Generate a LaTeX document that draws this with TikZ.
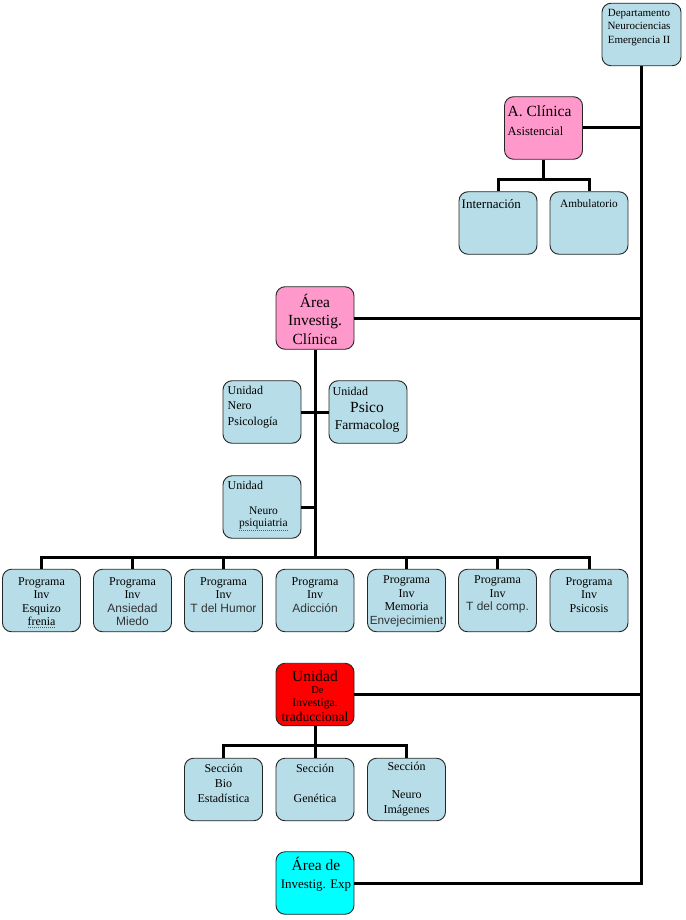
\documentclass[tikz,border=0pt]{standalone}
\usepackage{fontspec}
\setmainfont{Liberation Serif}
\newfontfamily\arialf{Liberation Sans}
\definecolor{pinkb}{HTML}{FF99CC}
\definecolor{blueb}{HTML}{B7DEE8}
\definecolor{redb}{HTML}{FF0000}
\definecolor{cyanb}{HTML}{00FFFF}
\definecolor{edgec}{HTML}{262626}
\definecolor{sanstext}{HTML}{333333}
\newcommand{\sanst}[1]{{\arialf\color{sanstext}#1}}
\begin{document}
\begin{tikzpicture}[x=1pt,y=-1pt,
  box/.style={draw=edgec, line width=0.9pt, rounded corners=9pt, minimum width=78pt, minimum height=62.5pt, inner sep=0pt, fill=blueb},
  conn/.style={line width=3pt, black},
  txt/.style={inner sep=0pt, align=center, font=\fontsize{12}{13.5}\selectfont},
  spell/.style={green!60!black, line width=0.6pt, dash pattern=on 1pt off 1pt}
]
\useasboundingbox (0,0) rectangle (685,920);
\fill[white] (0,0) rectangle (685,920);

% boxes
\node[box, minimum width=79pt] (dept) at (641.5,34.5) {};
\node[box, fill=pinkb] (aclin) at (543.5,128) {};
\node[box] (intern) at (498,223) {};
\node[box] (ambul) at (589,223) {};
\node[box, fill=pinkb] (aic) at (315,318) {};
\node[box] (unp) at (262,412) {};
\node[box] (upf) at (368,412) {};
\node[box] (unpq) at (262,507) {};
\node[box] (p1) at (41.5,600.5) {};
\node[box] (p2) at (132.5,600.5) {};
\node[box] (p3) at (223.5,600.5) {};
\node[box] (p4) at (315,600.5) {};
\node[box] (p5) at (406.5,600.5) {};
\node[box] (p6) at (497.5,600.5) {};
\node[box] (p7) at (589,600.5) {};
\node[box, fill=redb] (ut) at (315,694.5) {};
\node[box] (s1) at (223.5,789.5) {};
\node[box] (s2) at (315,789.5) {};
\node[box] (s3) at (406.5,789.5) {};
\node[box, fill=cyanb] (exp) at (315,883) {};

% connectors
\draw[conn] (dept.south) |- (exp.east);
\draw[conn] (aclin.east) -- (aclin.east -| dept.south);
\draw[conn] (aic.east) -- (aic.east -| dept.south);
\draw[conn] (ut.east) -- (ut.east -| dept.south);
\coordinate (j1) at (543.5,180);
\draw[conn] (aclin.south) -- (j1);
\draw[conn] (intern.north) |- (j1) -| (ambul.north);
\coordinate (j2) at (315,557);
\draw[conn] (aic.south) -- (j2);
\draw[conn] (p1.north) |- (j2) -| (p7.north);
\foreach \p in {p2,p3,p5,p6} {\draw[conn] (\p.north) -- (\p.north |- j2);}
\draw[conn] (unp.east) -- (upf.west);
\draw[conn] (unpq.east) -- (unpq.east -| aic.south);
\coordinate (j3) at (315,745);
\draw[conn] (ut.south) -- (j3);
\draw[conn] (s1.north) |- (j3) -| (s3.north);
\draw[conn] (s2.north) -- (s2.north |- j3);

% texts
\node[txt, font=\fontsize{11}{13.3}\selectfont] (tdept) at (639,27.5) {Departamento\\Neurociencias\\Emergencia II};
\node[txt, align=left, anchor=west, font=\fontsize{12.5}{19}\selectfont] (taclin) at (507.5,120.5) {{\fontsize{15.5}{19}\selectfont A. Clínica}\\Asistencial};
\node[txt, anchor=west, font=\fontsize{13}{15}\selectfont] (tintern) at (461.5,204) {Internación};
\node[txt, font=\fontsize{11.3}{14}\selectfont] (tambul) at (589,204) {Ambulatorio};
\node[txt, font=\fontsize{15.5}{18.5}\selectfont] (taic) at (315,319) {Área\\Investig.\\Clínica};
\node[txt, align=left, anchor=west, font=\fontsize{12}{15.2}\selectfont] (tunp) at (227.5,407) {Unidad\\Nero\\Psicología};
\node[txt, anchor=west] (tupf1) at (332.5,391.7) {Unidad};
\node[txt, font=\fontsize{13.5}{17}\selectfont] (tupf2) at (367,417) {{\fontsize{15.5}{17}\selectfont Psico}\\Farmacolog};
\node[txt, anchor=west] (tunpq1) at (227.5,485.5) {Unidad};
\node[txt, font=\fontsize{11.5}{12.5}\selectfont] (tunpq2) at (263.5,518) {Neuro\\psiquiatria};
\draw[spell] (239,530) -- (289,530);

\node[txt] (tp1) at (41.5,601.5) {Programa\\Inv\\Esquizo\\frenia};
\draw[spell] (28,627.5) -- (55,627.5);
\node[txt] (tp2) at (132.5,601.5) {Programa\\Inv\\\sanst{Ansiedad}\\\sanst{Miedo}};
\node[txt] (tp3) at (223.5,594.75) {Programa\\Inv\\\sanst{T del Humor}};
\node[txt] (tp4) at (315,594.75) {Programa\\Inv\\\sanst{Adicción}};
\node[txt] (tp5) at (406.5,601.5) {Programa\\Inv\\Memoria\\\sanst{\fontsize{11.8}{13.5}\selectfont Envejecimient}};
\node[txt] (tp6) at (497.5,594.75) {Programa\\Inv\\\sanst{T del comp.}};
\node[txt] (tp7) at (589,594.75) {Programa\\Inv\\Psicosis};

\node[txt, font=\fontsize{15.5}{15}\selectfont] (tut1) at (315,675.7) {Unidad};
\node[txt, font=\fontsize{10.5}{12}\selectfont] (tut2) at (317.5,690) {De};
\node[txt, font=\fontsize{11.5}{12}\selectfont] (tut3) at (315,703.5) {Investiga.};
\node[txt, font=\fontsize{13.5}{14}\selectfont] (tut4) at (315,717) {traduccional};

\node[txt, font=\fontsize{12}{15}\selectfont] (ts1) at (223.5,783.3) {Sección\\Bio\\Estadística};
\node[txt, font=\fontsize{12}{15}\selectfont] (ts2) at (315,783.3) {Sección\\[15pt]Genética};
\node[txt, font=\fontsize{12}{15}\selectfont] (ts3) at (406.5,789.5) {Sección\\[13pt]Neuro\\Imágenes};

\node[txt, font=\fontsize{13}{18}\selectfont] (texp) at (316,874) {{\fontsize{15.5}{18}\selectfont Área de}\\Investig. Exp};
\end{tikzpicture}
\end{document}
